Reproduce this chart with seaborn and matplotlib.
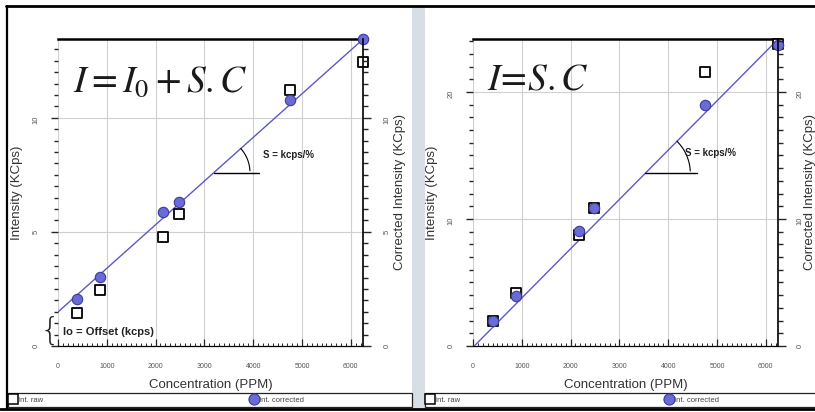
import numpy as np
import pandas as pd
import matplotlib
matplotlib.use("Agg")
import matplotlib.pyplot as plt
import seaborn as sns
from matplotlib.patches import Rectangle
from matplotlib.lines import Line2D
from matplotlib.ticker import MultipleLocator, FixedLocator

# ---------------- data ----------------
conc_left = [380, 870, 2160, 2470, 4760, 6250]
raw_left = [1.43, 2.46, 4.79, 5.79, 11.23, 12.43]
corr_left = [2.06, 3.04, 5.89, 6.29, 10.79, 13.45]

conc_right = [400, 890, 2180, 2480, 4760, 6260]
raw_right = [2.0, 4.15, 8.74, 10.9, 21.6, 23.8]
corr_right = [1.99, 3.9, 9.08, 10.84, 18.98, 23.7]

fit_left = (1.49, 0.001912)     # intercept, slope  (I = I0 + S.C)
fit_right = (-0.1, 0.00388)     # intercept, slope  (I = S.C)

x_max = 6250
y_max_left = 13.45
y_max_right = 24.17
x_ticks = [0, 1000, 2000, 3000, 4000, 5000, 6000]
y_ticks_left = [0, 5, 10]
y_ticks_right = [0, 10, 20]

x_label = "Concentration (PPM)"
y_label = "Intensity (KCps)"
y2_label = "Corrected Intensity (KCps)"
legend_labels = ["Int. raw", "Int. corrected"]
slope_text = "S = kcps/%"
offset_text = "Io = Offset (kcps)"

# ---------------- style ----------------
sns.set_style("white")
plt.rcParams["font.family"] = ["Liberation Sans", "DejaVu Sans"]
plt.rcParams["mathtext.fontset"] = "stix"

W, H = 815, 412
fig = plt.figure(figsize=(W / 100, H / 100), dpi=100)
fig.patch.set_facecolor("white")


def fx(px):
    return px / W


def fy(py):
    return 1 - py / H


LINE_C = "#5a5ac8"
CIRC_FC = "#6b6bd6"
CIRC_EC = "#3a3a9a"
TXT = "#333333"

# screenshot decorations
fig.add_artist(Rectangle((fx(412), fy(408)), 13 / W, (408 - 6) / H,
                         transform=fig.transFigure, facecolor="#d8dee6",
                         edgecolor="none", zorder=0))
fig.add_artist(Line2D([fx(6), 1], [fy(6), fy(6)], transform=fig.transFigure,
                      color="black", lw=2))
fig.add_artist(Line2D([fx(7), fx(7)], [fy(6), fy(409)], transform=fig.transFigure,
                      color="black", lw=1.6))
fig.add_artist(Line2D([0, 1], [fy(408.5), fy(408.5)], transform=fig.transFigure,
                      color="black", lw=2))
for x0, x1 in [(8, 412), (425, 816)]:
    fig.add_artist(Rectangle((fx(x0), fy(407)), (x1 - x0) / W, 14 / H,
                             transform=fig.transFigure, fill=False,
                             edgecolor="#222222", lw=0.9))


def draw_panel(px_left, conc, raw, corr, fit, ymax, yticks, y_minor,
               formula, formula_xy, level, arc_r, hline_len, slope_xy,
               with_offset, leg_sq_x, leg_circ_x, y2_label_x, y2_pad):
    ax = fig.add_axes([fx(px_left), fy(346), 305 / W, 307 / H])
    df = pd.DataFrame({"conc": conc, "raw": raw, "corr": corr})
    ax.set_xlim(0, x_max)
    ax.set_ylim(0, ymax)
    ax.set_axisbelow(True)
    ax.grid(True, which="major", color="#d0d0d0", lw=0.8)

    fit_x = np.array([0, x_max], dtype=float)
    fit_y = fit[0] + fit[1] * fit_x
    sns.lineplot(x=fit_x, y=fit_y, ax=ax, color=LINE_C, lw=1.0, zorder=3)
    sns.scatterplot(data=df, x="conc", y="raw", marker="s", s=46,
                    color="white", edgecolor="black", linewidth=1.3,
                    ax=ax, zorder=4, clip_on=False)
    sns.scatterplot(data=df, x="conc", y="corr", marker="o", s=56,
                    color=CIRC_FC, edgecolor=CIRC_EC, linewidth=0.8,
                    ax=ax, zorder=5, clip_on=False)

    ax.xaxis.set_major_locator(FixedLocator(x_ticks))
    ax.xaxis.set_minor_locator(MultipleLocator(100))
    ax.yaxis.set_major_locator(FixedLocator(yticks))
    ax.yaxis.set_minor_locator(MultipleLocator(y_minor))
    ax.tick_params(axis="x", which="major", direction="in", length=5, width=0.9,
                   labelsize=5, labelcolor="#555555", pad=12, top=False, bottom=True)
    ax.tick_params(axis="x", which="minor", direction="in", length=2.2, width=0.7,
                   top=False, bottom=True)
    ax.tick_params(axis="y", which="major", direction="out", length=5, width=1,
                   labelsize=5.5, labelcolor="#555555", labelrotation=90, pad=8,
                   left=True, right=False)
    ax.tick_params(axis="y", which="minor", direction="out", length=3, width=1,
                   left=True, right=False)

    for side in ["left", "right"]:
        ax.spines[side].set_visible(False)
    ax.spines["top"].set_linewidth(1.8)
    ax.spines["top"].set_color("black")
    ax.spines["bottom"].set_linewidth(0.9)
    ax.spines["bottom"].set_color("black")

    ax.set_xlabel(x_label, fontsize=9.5, color=TXT, va="center")
    ax.xaxis.set_label_coords(0.5, -0.127)
    ax.set_ylabel(y_label, fontsize=9.5, color=TXT, va="center")
    ax.yaxis.set_label_coords(-0.134, 0.5)

    ax2 = ax.twinx()
    ax2.set_ylim(0, ymax)
    ax2.yaxis.set_major_locator(FixedLocator(yticks))
    ax2.yaxis.set_minor_locator(MultipleLocator(y_minor))
    ax2.tick_params(axis="y", which="major", direction="out", length=6, width=1,
                    labelsize=5.5, labelcolor="#555555", labelrotation=90,
                    pad=y2_pad)
    ax2.tick_params(axis="y", which="minor", direction="out", length=3.5, width=1)
    for side in ["left", "top", "bottom"]:
        ax2.spines[side].set_visible(False)
    ax2.spines["right"].set_linewidth(1.2)
    ax2.spines["right"].set_color("black")
    ax2.set_ylabel(y2_label, fontsize=9.5, color=TXT, va="center")
    ax2.yaxis.set_label_coords(y2_label_x, 0.5)

    # formula
    ax.text(formula_xy[0], formula_xy[1], formula, transform=ax.transAxes,
            fontsize=27, ha="left", va="baseline", color="#1a1a1a", zorder=6)

    # slope annotation
    b, m = fit
    x_int = (level - b) / m
    ppx = 305 / x_max
    ppy = 307 / ymax
    ax.plot([x_int, x_int + hline_len / ppx], [level, level], color="black",
            lw=1.0, zorder=6)
    ang = np.arctan2(m * ppy, ppx)
    t = np.linspace(0.05, ang, 40)
    ax.plot(x_int + arc_r * np.cos(t) / ppx, level + arc_r * np.sin(t) / ppy,
            color="black", lw=0.8, zorder=6)
    ax.text(slope_xy[0], slope_xy[1], slope_text, transform=ax.transAxes,
            fontsize=7, ha="left", va="center", color="#222222",
            fontweight="bold", zorder=6)

    if with_offset:
        ax.text(0.016, 0.046, offset_text, transform=ax.transAxes, fontsize=8,
                ha="left", va="center", color="#222222", fontweight="bold",
                zorder=6)
        ax.text(-0.027, 0.05, "{", transform=ax.transAxes, fontsize=23,
                ha="center", va="center", color="#222222", clip_on=False,
                family="DejaVu Sans", fontweight="light")

    # legends
    h_sq = Line2D([], [], marker="s", ls="", mfc="white", mec="black",
                  ms=7.5, mew=1.1)
    h_ci = Line2D([], [], marker="o", ls="", mfc=CIRC_FC, mec=CIRC_EC,
                  ms=8, mew=0.8)
    for h, lab, x0 in [(h_sq, legend_labels[0], leg_sq_x),
                       (h_ci, legend_labels[1], leg_circ_x)]:
        fig.legend([h], [lab], loc="center left",
                   bbox_to_anchor=(fx(x0), fy(400)), frameon=False,
                   fontsize=5.5, handlelength=1.0, handletextpad=0.15,
                   borderpad=0, borderaxespad=0, labelcolor="#444444")
    return ax


draw_panel(58, conc_left, raw_left, corr_left, fit_left, y_max_left,
           y_ticks_left, 0.5, r"$I = I_0 + S.C$", (0.049, 0.827),
           7.6, 36, 45, (0.672, 0.622), True, 9, 250, 1.121, 9)
draw_panel(473, conc_right, raw_right, corr_right, fit_right, y_max_right,
           y_ticks_right, 1, r"$I\!=\!S.C$", (0.046, 0.837),
           13.6, 45, 52, (0.695, 0.629), False, 426, 665, 1.104, 7.5)

fig.savefig("out.png", dpi=100)
